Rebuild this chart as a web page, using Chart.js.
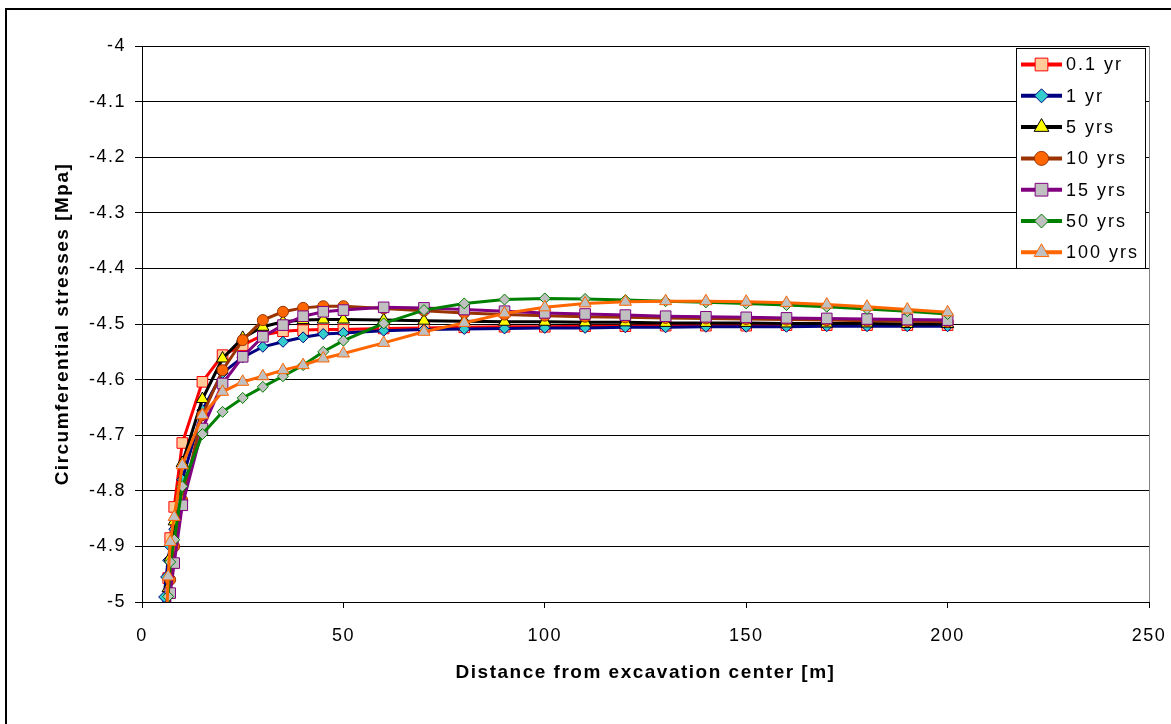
<!DOCTYPE html>
<html>
<head>
<meta charset="utf-8">
<script src="https://cdn.jsdelivr.net/npm/chart.js@4/dist/chart.umd.min.js"></script>
<style>
html,body{margin:0;padding:0;background:#fff;}
#wrap{width:1171px;height:724px;position:relative;}
</style>
</head>
<body>
<div id="wrap"><canvas id="c" width="1171" height="724"></canvas></div>
<script>
// ---- data ----
const distance = [5, 5.5, 6, 6.5, 7, 8, 10, 15, 20, 25, 30, 35, 40, 45, 50, 60, 70, 80, 90, 100, 110, 120, 130, 140, 150, 160, 170, 180, 190, 200];
const seriesNames = ['0.1 yr', '1 yr', '5 yrs', '10 yrs', '15 yrs', '50 yrs', '100 yrs'];
const yr0_1 = [-5.3, -5.15, -5.04, -4.957, -4.885, -4.829, -4.714, -4.604, -4.556, -4.538, -4.52, -4.513, -4.511, -4.51, -4.51, -4.508, -4.507, -4.506, -4.505, -4.505, -4.504, -4.504, -4.503, -4.503, -4.503, -4.502, -4.502, -4.502, -4.502, -4.502];
const yr1 = [-5.03, -4.991, -4.955, -4.925, -4.9, -4.869, -4.78, -4.655, -4.588, -4.56, -4.541, -4.532, -4.524, -4.518, -4.516, -4.512, -4.51, -4.509, -4.508, -4.507, -4.507, -4.506, -4.506, -4.505, -4.505, -4.505, -4.504, -4.504, -4.504, -4.504];
const yrs5 = [-5.3, -5.15, -5.03, -4.975, -4.92, -4.855, -4.75, -4.635, -4.562, -4.525, -4.505, -4.496, -4.493, -4.492, -4.492, -4.493, -4.494, -4.495, -4.496, -4.496, -4.497, -4.497, -4.498, -4.498, -4.498, -4.499, -4.499, -4.499, -4.5, -4.5];
const yrs10 = [-5.4, -5.25, -5.1, -5.02, -4.96, -4.9, -4.817, -4.664, -4.583, -4.529, -4.493, -4.478, -4.471, -4.468, -4.468, -4.472, -4.476, -4.48, -4.483, -4.485, -4.487, -4.488, -4.489, -4.49, -4.491, -4.492, -4.493, -4.494, -4.495, -4.496];
const yrs15 = [-5.5, -5.3, -5.15, -5.06, -4.984, -4.93, -4.826, -4.688, -4.607, -4.559, -4.523, -4.502, -4.486, -4.478, -4.475, -4.47, -4.471, -4.474, -4.477, -4.48, -4.482, -4.484, -4.486, -4.487, -4.488, -4.489, -4.49, -4.491, -4.492, -4.493];
const yrs50 = [-5.4, -5.25, -5.1, -4.99, -4.928, -4.888, -4.792, -4.698, -4.658, -4.633, -4.613, -4.594, -4.574, -4.55, -4.53, -4.499, -4.475, -4.463, -4.456, -4.454, -4.455, -4.457, -4.459, -4.461, -4.463, -4.466, -4.469, -4.473, -4.477, -4.482];
const yrs100 = [-5.3, -5.17, -5.05, -4.954, -4.892, -4.847, -4.754, -4.664, -4.622, -4.604, -4.594, -4.583, -4.574, -4.562, -4.553, -4.534, -4.514, -4.498, -4.481, -4.47, -4.463, -4.46, -4.459, -4.459, -4.46, -4.462, -4.465, -4.469, -4.474, -4.479];
const xTicks = [0, 50, 100, 150, 200, 250];
const yTicks = [-5, -4.9, -4.8, -4.7, -4.6, -4.5, -4.4, -4.3, -4.2, -4.1, -4];
const xTitle = 'Distance from excavation center [m]';
const yTitle = 'Circumferential stresses [Mpa]';

// ---- styles ----
const seriesValues = [yr0_1, yr1, yrs5, yrs10, yrs15, yrs50, yrs100];
const styles = [
  {line:'#FF0000', fill:'#FFCC99', edge:'#FF0000', shape:'rect', r:7.5},
  {line:'#000080', fill:'#33CCCC', edge:'#000080', shape:'rectRot', r:5.5},
  {line:'#000000', fill:'#FFFF00', edge:'#000000', shape:'triangle', r:7},
  {line:'#993300', fill:'#FF6600', edge:'#993300', shape:'circle', r:5.5},
  {line:'#800080', fill:'#C0C0C0', edge:'#800080', shape:'rect', r:7.5},
  {line:'#008000', fill:'#C0C0C0', edge:'#008000', shape:'rectRot', r:5.5},
  {line:'#FF6600', fill:'#C0C0C0', edge:'#FF6600', shape:'triangle', r:7}
];
const FONT = "'Liberation Sans', Arial, sans-serif";

const datasets = seriesNames.map((name, i) => ({
  label: name,
  data: distance.map((d, k) => ({x: d, y: seriesValues[i][k]})),
  borderColor: styles[i].line,
  borderWidth: 3,
  pointStyle: styles[i].shape,
  pointRadius: styles[i].r,
  pointBackgroundColor: styles[i].fill,
  pointBorderColor: styles[i].edge,
  pointBorderWidth: 1,
  tension: 0,
  fill: false,
  order: seriesNames.length - i
}));

function drawMarker(ctx, shape, r, x, y) {
  ctx.beginPath();
  if (shape === 'rect') {
    const s = Math.SQRT1_2 * r;
    ctx.rect(x - s, y - s, 2 * s, 2 * s);
  } else if (shape === 'rectRot') {
    ctx.moveTo(x - r, y); ctx.lineTo(x, y - r); ctx.lineTo(x + r, y); ctx.lineTo(x, y + r); ctx.closePath();
  } else if (shape === 'triangle') {
    let a = 0;
    ctx.moveTo(x + Math.sin(a) * r, y - Math.cos(a) * r);
    a += 2 * Math.PI / 3;
    ctx.lineTo(x + Math.sin(a) * r, y - Math.cos(a) * r);
    a += 2 * Math.PI / 3;
    ctx.lineTo(x + Math.sin(a) * r, y - Math.cos(a) * r);
    ctx.closePath();
  } else {
    ctx.arc(x, y, r, 0, Math.PI * 2);
  }
  ctx.fill();
  ctx.stroke();
}

const framePlugin = {
  id: 'frame',
  beforeDraw(chart) {
    const ctx = chart.ctx;
    ctx.save();
    ctx.fillStyle = '#fff';
    ctx.fillRect(0, 0, chart.width, chart.height);
    ctx.restore();
    ctx.letterSpacing = '1.5px';
  },
  afterDraw(chart) {
    const ctx = chart.ctx;
    const ca = chart.chartArea;
    ctx.save();
    // plot area right edge
    ctx.strokeStyle = '#808080';
    ctx.lineWidth = 1;
    ctx.beginPath();
    ctx.moveTo(Math.round(ca.right) + 0.5, ca.top);
    ctx.lineTo(Math.round(ca.right) + 0.5, ca.bottom);
    ctx.stroke();
    // outer chart border
    ctx.strokeStyle = '#000';
    ctx.lineWidth = 2;
    ctx.strokeRect(6, 9, 1200, 760);
    // legend
    const L = {x: 1016.5, y: 48.5, w: 129, h: 220, row0: 64.5, rowH: 31.3, l1: 1021, l2: 1062, tx: 1066};
    ctx.fillStyle = '#fff';
    ctx.fillRect(L.x, L.y, L.w, L.h);
    ctx.strokeStyle = '#000';
    ctx.lineWidth = 1;
    ctx.strokeRect(L.x, L.y, L.w, L.h);
    ctx.letterSpacing = '2px';
    ctx.font = '18px ' + FONT;
    ctx.textBaseline = 'middle';
    ctx.textAlign = 'left';
    seriesNames.forEach((name, i) => {
      const st = styles[i];
      const y = L.row0 + i * L.rowH;
      ctx.strokeStyle = st.line;
      ctx.lineWidth = 4;
      ctx.beginPath();
      ctx.moveTo(L.l1, y); ctx.lineTo(L.l2, y);
      ctx.stroke();
      ctx.fillStyle = st.fill;
      ctx.strokeStyle = st.edge;
      ctx.lineWidth = 1;
      drawMarker(ctx, st.shape, st.r + 1.5, (L.l1 + L.l2) / 2, y);
      ctx.fillStyle = '#000';
      ctx.fillText(name, L.tx, y + 1);
    });
    ctx.restore();
  }
};

const fmt = v => String(Number(v.toFixed(1)));

new Chart(document.getElementById('c'), {
  type: 'line',
  data: {datasets},
  plugins: [framePlugin],
  options: {
    responsive: false,
    animation: false,
    events: [],
    layout: {padding: {left: 0, top: 46, right: 22, bottom: 0}},
    plugins: {legend: {display: false}, tooltip: {enabled: false}},
    scales: {
      x: {
        type: 'linear', min: 0, max: 250,
        afterBuildTicks: s => { s.ticks = xTicks.map(v => ({value: v})); },
        afterFit: s => { s.height = 122; s.paddingLeft = 0; s.paddingRight = 0; },
        ticks: {autoSkip: false, maxRotation: 0, padding: 17, color: '#000', font: {family: FONT, size: 18}, callback: v => fmt(v)},
        grid: {drawOnChartArea: false, drawTicks: true, tickLength: 6, color: '#000', lineWidth: 1},
        border: {display: true, color: '#000', width: 1},
        title: {display: true, text: xTitle, color: '#000', font: {family: FONT, size: 19, weight: 'bold'}, padding: {top: 0, bottom: 40}}
      },
      y: {
        type: 'linear', min: -5, max: -4,
        afterBuildTicks: s => { s.ticks = yTicks.map(v => ({value: v})); },
        afterFit: s => { s.width = 142; s.paddingTop = 0; s.paddingBottom = 0; },
        ticks: {autoSkip: false, padding: 9, color: '#000', font: {family: FONT, size: 18}, callback: v => fmt(v)},
        grid: {drawOnChartArea: true, drawTicks: true, tickLength: 7, color: '#000', lineWidth: 1},
        border: {display: true, color: '#000', width: 1},
        title: {display: true, text: yTitle, color: '#000', font: {family: FONT, size: 19, weight: 'bold'}, padding: {top: 51, bottom: 0}}
      }
    }
  }
});
</script>
</body>
</html>
